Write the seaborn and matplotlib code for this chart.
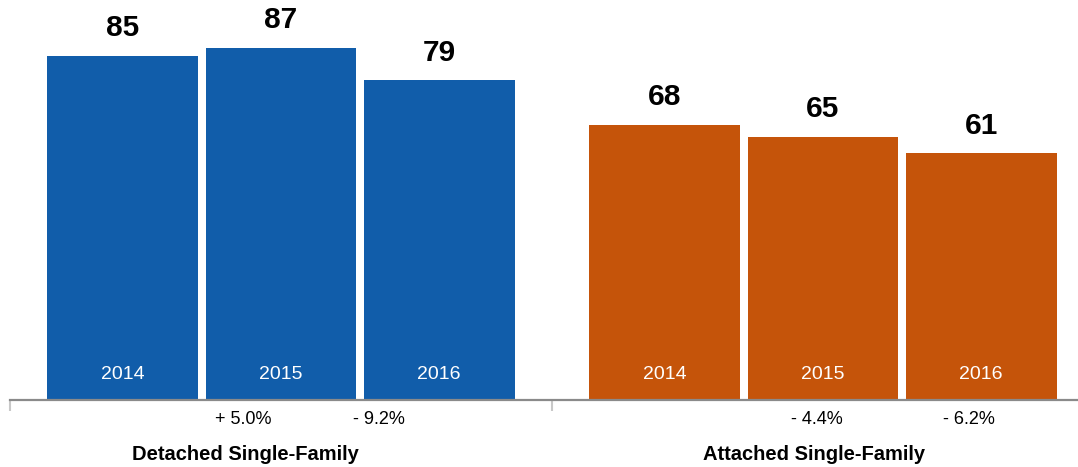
import matplotlib
matplotlib.use("Agg")
import matplotlib.pyplot as plt
import matplotlib.transforms as mtransforms
import seaborn as sns
import pandas as pd

# Data
groups = ["Detached Single-Family", "Attached Single-Family"]
years = ["2014", "2015", "2016"]
detached = [85, 87, 79]
attached = [68, 65, 61]
changes_detached = ["", "+ 5.0%", "- 9.2%"]
changes_attached = ["", "- 4.4%", "- 6.2%"]

group_colors = ["#115DAA", "#C5540A"]

rows = []
for g, vals in zip(groups, [detached, attached]):
    for y, v in zip(years, vals):
        rows.append({"group": g, "year": y, "value": v})
df = pd.DataFrame(rows)

sns.set_theme(style="white")
plt.rcParams["font.family"] = ["Liberation Sans", "DejaVu Sans"]

W, H, DPI = 1078, 467, 100
fig = plt.figure(figsize=(W / DPI, H / DPI), dpi=DPI)
# axes spans past the right edge so both groups share equal width
ax = fig.add_axes([10 / W, (H - 400) / H, 1084 / W, 400 / H])

sns.barplot(data=df, x="group", y="value", hue="year", order=groups,
            hue_order=years, width=0.875, gap=0.045, ax=ax,
            legend=False, saturation=1, linewidth=0)

# colour bars by group
for cont in ax.containers:
    for i, bar in enumerate(cont):
        bar.set_facecolor(group_colors[i])
        bar.set_edgecolor("none")

ax.set_xlim(-0.5, 1.5)
ax.set_ylim(0, 98.8)
ax.set_xlabel("")
ax.set_ylabel("")
ax.set_yticks([])
for s in ["top", "right", "left"]:
    ax.spines[s].set_visible(False)
ax.spines["bottom"].set_color("#8a8a8a")
ax.spines["bottom"].set_linewidth(1.6)

# group separator ticks below the baseline
ax.set_xticks([-0.5, 0.5])
ax.set_xticklabels([])
ax.tick_params(axis="x", bottom=True, length=8, width=1.5,
               color="#c8c8c8", direction="out")
ax.get_xaxis().get_major_ticks()[0].tick1line.set_color("#a0a0a0")

all_vals = [detached, attached]
all_changes = [changes_detached, changes_attached]
change_shift_px = [[0, -38, -60], [0, -6, -12]]
group_shift_px = [-36, -9]

for j, cont in enumerate(ax.containers):
    for i, bar in enumerate(cont):
        cx = bar.get_x() + bar.get_width() / 2
        v = all_vals[i][j]
        ax.text(cx, bar.get_height() + 6.8, f"{v}", ha="center", va="center",
                fontsize=21.5, fontweight="bold", color="#000000")
        ax.text(cx, 6.4, years[j], ha="center", va="center",
                fontsize=14, color="white")
        label = all_changes[i][j]
        if label:
            tr = ax.get_xaxis_transform() + mtransforms.ScaledTranslation(
                change_shift_px[i][j] / DPI, 0, fig.dpi_scale_trans)
            ax.text(cx, -20 / 400, label, transform=tr, ha="center",
                    va="center", fontsize=13, color="#000000")

for i, g in enumerate(groups):
    tr = ax.get_xaxis_transform() + mtransforms.ScaledTranslation(
        group_shift_px[i] / DPI, 0, fig.dpi_scale_trans)
    ax.text(i, -55 / 400, g, transform=tr, ha="center", va="center",
            fontsize=14.5, fontweight="bold", color="#000000")

fig.savefig("out.png", dpi=DPI)
